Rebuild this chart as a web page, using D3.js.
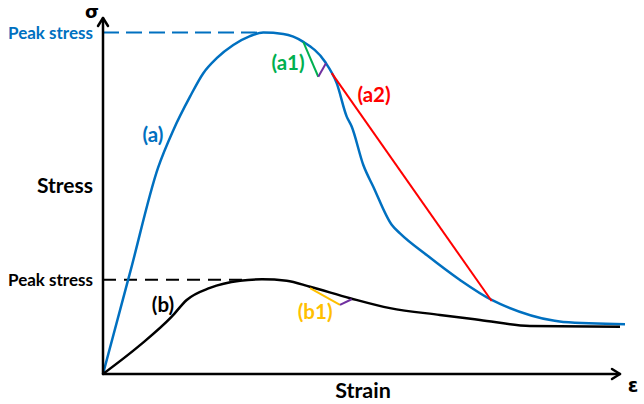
<!DOCTYPE html>
<html>
<head>
<meta charset="utf-8">
<script src="https://cdn.jsdelivr.net/npm/d3@7"></script>
<style>
  html, body { margin: 0; padding: 0; background: #fff; }
  svg { display: block; }
  text { font-family: Lato, "Open Sans", sans-serif; font-weight: bold; }
  text.greek { font-family: "DejaVu Sans", sans-serif; }
</style>
</head>
<body>
<svg id="chart" width="644" height="404"></svg>
<script>
// Curve (a): stress–strain response, [strain, stress]
const curveA = [
  [0, 0], [5.32, 28.95], [10.64, 57.9], [13.6, 68.5], [16.83, 77.9], [19.4, 84.5],
  [21.99, 88.7], [25.2, 92.4], [28.43, 94.9], [31.0, 95.9], [34.87, 95.5], [38.74, 93.3],
  [42.94, 87.7], [45.2, 81.7], [47.14, 72.3], [48.1, 69.5], [50.35, 58.7],
  [52.28, 52.6], [55.84, 41.9], [57.45, 39.5], [62.61, 33.4], [69.05, 26.4],
  [75.18, 20.8], [76.79, 19.7], [87.1, 15.0], [89.03, 14.6], [100.97, 14.0]
];
// Curve (b): stress–strain response, [strain, stress]
const curveB = [
  [0, 0], [7.16, 8.1], [13.29, 16.1], [16.19, 20.8], [20.7, 24.2], [26.5, 26.2],
  [30.75, 26.6], [35.53, 26.2], [40.04, 24.5], [47.78, 21.3], [55.51, 18.5],
  [65.18, 16.6], [72.92, 15.2], [82.59, 13.5], [100.0, 13.3]
];
// Peak stress levels and the strain where each occurs
const peakA = [31.0, 95.9];
const peakB = [30.75, 26.5];

// Secant / tangent segments: [[x0, y0], [x1, y1]]
const segA1 = [[38.74, 93.3], [41.64, 83.5]];
const perpA = [[41.64, 83.5], [43.13, 87.3]];
const segA2 = [[44.24, 84.5], [75.18, 20.5]];
const segB1 = [[40.04, 24.1], [45.84, 19.4]];
const perpB = [[45.84, 19.4], [48.1, 21.0]];

// Annotation labels: [text, strain, stress, colour]
const curveLabels = [
  ["(a)", 9.67, 67.1, "#0070C0"],
  ["(b)", 11.61, 19.4, "#000000"],
  ["(a1)", 35.78, 87.4, "#00B050"],
  ["(a2)", 52.42, 78.4, "#FF0000"],
  ["(b1)", 41.03, 17.4, "#FFC000"]
];

const svg = d3.select("#chart");
const x = d3.scaleLinear().domain([0, 100]).range([103, 620]);
const y = d3.scaleLinear().domain([0, 100]).range([374, 18]);

const line = d3.line().x(d => x(d[0])).y(d => y(d[1]));
const smooth = d3.line().x(d => x(d[0])).y(d => y(d[1])).curve(d3.curveMonotoneX);

// Peak stress reference lines
svg.append("line")
  .attr("x1", x(0)).attr("x2", x(peakA[0]))
  .attr("y1", y(peakA[1])).attr("y2", y(peakA[1]))
  .attr("stroke", "#0070C0").attr("stroke-width", 2).attr("stroke-dasharray", "16,7");
svg.append("line")
  .attr("x1", x(0)).attr("x2", x(peakB[0]) - 20)
  .attr("y1", y(peakB[1])).attr("y2", y(peakB[1]))
  .attr("stroke", "#000").attr("stroke-width", 2).attr("stroke-dasharray", "13,8");

// Curves
svg.append("path").attr("d", smooth(curveA))
  .attr("fill", "none").attr("stroke", "#0070C0").attr("stroke-width", 2.5);
svg.append("path").attr("d", smooth(curveB))
  .attr("fill", "none").attr("stroke", "#000").attr("stroke-width", 2.5);

// Secant lines
const segs = [
  [segA1, "#00B050"], [perpA, "#7030A0"], [segA2, "#FF0000"],
  [segB1, "#FFC000"], [perpB, "#7030A0"]
];
segs.forEach(([s, c]) => {
  svg.append("path").attr("d", line(s))
    .attr("fill", "none").attr("stroke", c).attr("stroke-width", 2);
});

// Axes with open arrowheads
const ax = svg.append("g").attr("stroke", "#000").attr("stroke-width", 2.5)
  .attr("fill", "none").attr("stroke-linecap", "round").attr("stroke-linejoin", "round");
ax.append("path").attr("d", `M${x(0)},${y(0)}V${y(100)}`);
ax.append("path").attr("d", `M${x(0) - 5},${y(100) + 8}L${x(0)},${y(100)}L${x(0) + 5},${y(100) + 8}`);
ax.append("path").attr("d", `M${x(0)},${y(0)}H${x(100)}`);
ax.append("path").attr("d", `M${x(100) - 8},${y(0) - 5}L${x(100)},${y(0)}L${x(100) - 8},${y(0) + 5}`);

// Axis titles
svg.append("text").attr("class", "greek").attr("x", x(0) - 11).attr("y", y(100))
  .attr("text-anchor", "middle").attr("font-size", 18).text("σ");
svg.append("text").attr("class", "greek").attr("x", x(100) + 13).attr("y", y(0) + 18)
  .attr("text-anchor", "middle").attr("font-size", 19).text("ε");
svg.append("text").attr("x", 65).attr("y", 193)
  .attr("text-anchor", "middle").attr("font-size", 21).text("Stress");
svg.append("text").attr("x", 363).attr("y", 398)
  .attr("text-anchor", "middle").attr("font-size", 21.5).text("Strain");

// Peak stress labels
svg.append("text").attr("x", 93).attr("y", y(peakA[1]) + 6)
  .attr("text-anchor", "end").attr("font-size", 17).attr("fill", "#0070C0").text("Peak stress");
svg.append("text").attr("x", 93).attr("y", y(peakB[1]) + 6)
  .attr("text-anchor", "end").attr("font-size", 17).attr("fill", "#000").text("Peak stress");

// Curve and segment labels
svg.selectAll(".lbl").data(curveLabels).enter().append("text")
  .attr("class", "lbl")
  .attr("x", d => x(d[1])).attr("y", d => y(d[2]) + 7)
  .attr("text-anchor", "middle").attr("font-size", 20.5)
  .attr("fill", d => d[3]).text(d => d[0]);
</script>
</body>
</html>
